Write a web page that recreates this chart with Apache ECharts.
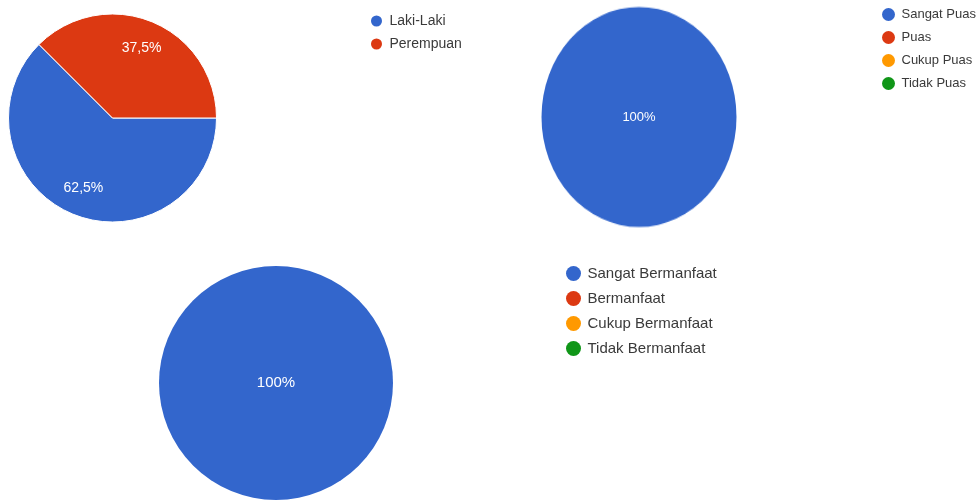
<!DOCTYPE html>
<html>
<head>
<meta charset="utf-8">
<script src="https://cdn.jsdelivr.net/npm/echarts@6/dist/echarts.min.js"></script>
<style>
  html, body { margin: 0; padding: 0; background: #fff; }
  #under, #main { position: absolute; left: 0; top: 0; width: 977px; height: 500px; }
  #under { z-index: 1; transform-origin: 639px 117px; transform: scaleY(1.128); }
  #main { z-index: 2; }
</style>
</head>
<body>
<div id="under"></div>
<div id="main"></div>
<script>
// ---- data ----
const palette = ['#3366CC', '#DC3912', '#FF9900', '#109618'];

const genderCategories = ['Laki-Laki', 'Perempuan'];
const genderValues = [62.5, 37.5];

const satisfactionCategories = ['Sangat Puas', 'Puas', 'Cukup Puas', 'Tidak Puas'];
const satisfactionValues = [100, 0, 0, 0];

const benefitCategories = ['Sangat Bermanfaat', 'Bermanfaat', 'Cukup Bermanfaat', 'Tidak Bermanfaat'];
const benefitValues = [100, 0, 0, 0];

// ---- helpers ----
const FONT = "'Liberation Sans', Arial, sans-serif";
function toData(cats, vals) {
  return cats.map((c, i) => ({ name: c, value: vals[i], itemStyle: { color: palette[i % palette.length] } }));
}
function pctLabel(p) {
  if (!p.value) return '';
  return String(p.percent).replace('.', ',') + '%';
}
function legendData(cats) {
  return cats.map((c, i) => ({ name: c, itemStyle: { color: palette[i % palette.length] } }));
}

// ---- underlying (vertically stretched) chart for pie 2 ----
const under = echarts.init(document.getElementById('under'));
under.setOption({
  animation: false,
  series: [{
    type: 'pie',
    center: [639, 117],
    radius: 97.5,
    startAngle: 90,
    silent: true,
    label: { show: false },
    labelLine: { show: false },
    itemStyle: { borderWidth: 0 },
    data: toData(satisfactionCategories, satisfactionValues)
  }]
});

// ---- main chart ----
const main = echarts.init(document.getElementById('main'));
main.setOption({
  animation: false,
  backgroundColor: 'transparent',
  legend: [
    {
      orient: 'vertical', left: 369, top: 13.5, padding: 0, icon: 'circle',
      itemWidth: 16, itemHeight: 13, itemGap: 8, selectedMode: false,
      textStyle: { fontFamily: FONT, fontSize: 14, color: '#3a3a3a' },
      data: legendData(genderCategories)
    },
    {
      orient: 'vertical', left: 882, top: 8, padding: 0, icon: 'circle',
      itemWidth: 16, itemHeight: 13, itemGap: 10, selectedMode: false,
      textStyle: { fontFamily: FONT, fontSize: 13, color: '#3a3a3a', lineHeight: 13 },
      data: legendData(satisfactionCategories)
    },
    {
      orient: 'vertical', left: 566, top: 266, padding: 0, icon: 'circle',
      itemWidth: 18, itemHeight: 15, itemGap: 10, selectedMode: false,
      textStyle: { fontFamily: FONT, fontSize: 15, color: '#3a3a3a', lineHeight: 15 },
      data: legendData(benefitCategories)
    }
  ],
  series: [
    // pie 1 (gender)
    {
      type: 'pie', center: [112.5, 118], radius: 104, startAngle: 0, silent: true,
      label: { show: false }, labelLine: { show: false },
      itemStyle: { borderColor: '#fff', borderWidth: 1 },
      data: toData(genderCategories, genderValues)
    },
    // pie 1 labels overlay (transparent ring, labels at ~0.73 R)
    {
      type: 'pie', center: [112.5, 118], radius: [42, 104], startAngle: 0, silent: true,
      itemStyle: { color: 'rgba(0,0,0,0)', borderWidth: 0 },
      label: { show: true, position: 'inside', formatter: pctLabel, color: '#fff', fontFamily: FONT, fontSize: 14 },
      labelLine: { show: false },
      data: genderCategories.map((c, i) => ({ name: c, value: genderValues[i] }))
    },
    // pie 2 labels overlay (colored pie drawn below, stretched)
    {
      type: 'pie', center: [639, 117], radius: 97.5, startAngle: 90, silent: true,
      itemStyle: { color: 'rgba(0,0,0,0)', borderWidth: 0 },
      label: { show: true, position: 'center', formatter: pctLabel, color: '#fff', fontFamily: FONT, fontSize: 13 },
      labelLine: { show: false },
      data: satisfactionCategories.map((c, i) => ({ name: c, value: satisfactionValues[i] }))
    },
    // pie 3 (benefit)
    {
      type: 'pie', center: [276, 383], radius: 117, startAngle: 90, silent: true,
      itemStyle: { borderWidth: 0 },
      label: { show: true, position: 'center', formatter: pctLabel, color: '#fff', fontFamily: FONT, fontSize: 15 },
      labelLine: { show: false },
      data: toData(benefitCategories, benefitValues)
    }
  ]
});
</script>
</body>
</html>
